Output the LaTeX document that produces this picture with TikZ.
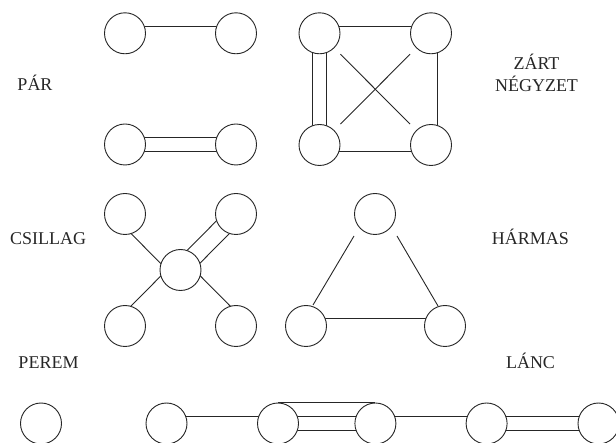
\documentclass[tikz,border=0pt]{standalone}
\usepackage{fontspec}
\setmainfont{Liberation Serif}
\usetikzlibrary{backgrounds,calc}
\begin{document}
\begin{tikzpicture}[x=1pt,y=-1pt,
  vtx/.style={circle,draw=black!85,fill=white,minimum size=41pt,inner sep=0pt,line width=0.9pt},
  lbl/.style={font=\fontsize{18}{22}\selectfont,anchor=base,inner sep=0pt,align=center,text=black!85},
  edge/.style={line width=0.9pt,draw=black!85}]
\useasboundingbox (0,0) rectangle (616,443);
% PÁR
\node[vtx] (p1) at (125,33.3) {};
\node[vtx] (p2) at (236,33.3) {};
\node[vtx] (p3) at (125,144.5) {};
\node[vtx] (p4) at (236,144.5) {};
% ZÁRT NÉGYZET
\node[vtx] (q1) at (319.5,33.3) {};
\node[vtx] (q2) at (431,33.3) {};
\node[vtx] (q3) at (319.5,145) {};
\node[vtx] (q4) at (431,145) {};
% CSILLAG
\node[vtx] (s0) at (180.5,270) {};
\node[vtx] (s1) at (125,214) {};
\node[vtx] (s2) at (236,214) {};
\node[vtx] (s3) at (125,326) {};
\node[vtx] (s4) at (236,326) {};
% HÁRMAS
\node[vtx] (t1) at (375,214) {};
\node[vtx] (t2) at (306,326) {};
\node[vtx] (t3) at (445,326) {};
% PEREM / LÁNC
\node[vtx] (c1) at (41,423.5) {};
\node[vtx] (c2) at (166.5,423.5) {};
\node[vtx] (c3) at (278,423.5) {};
\node[vtx] (c4) at (375.4,423.5) {};
\node[vtx] (c5) at (486.6,423.5) {};
\node[vtx] (c6) at (598.5,423.5) {};
% labels
\node[lbl] (lpar) at (35,91) {PÁR};
\node[lbl] (lzart) at (536.5,92) {ZÁRT\\NÉGYZET};
\node[lbl] (lcsi) at (48,245) {CSILLAG};
\node[lbl] (lhar) at (530.5,245) {HÁRMAS};
\node[lbl] (lper) at (48.5,369) {PEREM};
\node[lbl] (llan) at (530.5,369) {LÁNC};
\begin{pgfonlayer}{background}
% pair
\draw[edge] ([shift={(0,-6.6)}]p1.center) -- ([shift={(0,-6.6)}]p2.center);
\draw[edge] ([shift={(0,-7.2)}]p3.center) -- ([shift={(0,-7.2)}]p4.center);
\draw[edge] ([shift={(0,7.2)}]p3.center) -- ([shift={(0,7.2)}]p4.center);
% square
\draw[edge] ([shift={(0,-6.6)}]q1.center) -- ([shift={(0,-6.6)}]q2.center);
\draw[edge] ([shift={(0,6.7)}]q3.center) -- ([shift={(0,6.7)}]q4.center);
\draw[edge] ([shift={(6.3,0)}]q2.center) -- ([shift={(6.3,0)}]q4.center);
\draw[edge] ([shift={(-7,0)}]q1.center) -- ([shift={(-7,0)}]q3.center);
\draw[edge] ([shift={(7,0)}]q1.center) -- ([shift={(7,0)}]q3.center);
\draw[edge] (q1.south -| q1.east) -- (q4.north -| q4.west);
\draw[edge] (q2.south -| q2.west) -- (q3.north -| q3.east);
% star
\draw[edge] ([shift={(-6.7,6.7)}]s1.center) -- ([shift={(-6.7,6.7)}]s0.center);
\draw[edge] ([shift={(-6.4,-6.4)}]s2.center) -- ([shift={(-6.4,-6.4)}]s0.center);
\draw[edge] ([shift={(6.4,6.4)}]s2.center) -- ([shift={(6.4,6.4)}]s0.center);
\draw[edge] ([shift={(-6.9,-6.9)}]s3.center) -- ([shift={(-6.9,-6.9)}]s0.center);
\draw[edge] ([shift={(7,-7)}]s4.center) -- ([shift={(7,-7)}]s0.center);
% triangle
\draw[edge] ([shift={(-21,22)}]t1.center) -- ([shift={(7,-21)}]t2.center);
\draw[edge] ([shift={(22,22)}]t1.center) -- ([shift={(-7,-20)}]t3.center);
\draw[edge] ([shift={(0,-7.7)}]t2.center) -- ([shift={(0,-7.7)}]t3.center);
% chain
\draw[edge] ([shift={(0,-7)}]c2.center) -- ([shift={(0,-7)}]c3.center);
\draw[edge] ([shift={(0,-20.6)}]c3.center) -- ([shift={(0,-20.6)}]c4.center);
\draw[edge] ([shift={(0,-7)}]c3.center) -- ([shift={(0,-7)}]c4.center);
\draw[edge] ([shift={(0,7)}]c3.center) -- ([shift={(0,7)}]c4.center);
\draw[edge] ([shift={(0,-7)}]c4.center) -- ([shift={(0,-7)}]c5.center);
\draw[edge] ([shift={(0,-7)}]c5.center) -- ([shift={(0,-7)}]c6.center);
\draw[edge] ([shift={(0,7)}]c5.center) -- ([shift={(0,7)}]c6.center);
\end{pgfonlayer}
\end{tikzpicture}
\end{document}
